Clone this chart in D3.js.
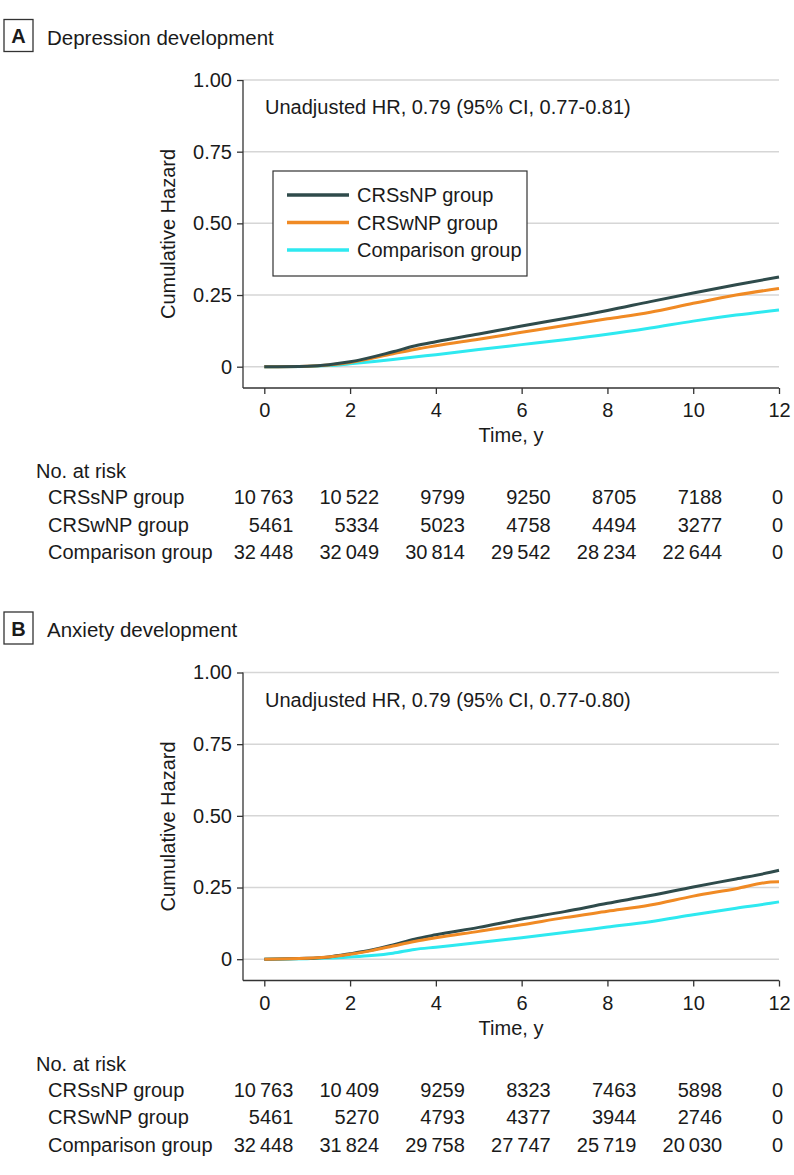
<!DOCTYPE html>
<html>
<head>
<meta charset="utf-8">
<script src="https://cdn.jsdelivr.net/npm/d3@7"></script>
<style>
  body { margin: 0; background: #fff; }
  svg text { font-family: "Liberation Sans", Arial, sans-serif; fill: #1a1a1a; }
</style>
</head>
<body>
<svg id="chart" width="794" height="1175"></svg>
<script>
// ---- data ----
var groups = ["CRSsNP group", "CRSwNP group", "Comparison group"];
var colors = ["#2f4b4b", "#f08a24", "#2ee9f0"];

var xTicks = [0, 2, 4, 6, 8, 10, 12];
var yTicks = [0, 0.25, 0.5, 0.75, 1];
var yTickLabels = ["0", "0.25", "0.50", "0.75", "1.00"];
var riskTimes = [0, 2, 4, 6, 8, 10, 12];

// panel A: depression
var depTimes   = [0, 1, 1.5, 2, 3, 3.5, 4, 5, 6, 7, 8, 9, 10, 11, 12];
var depCRSsNP  = [0, 0.002, 0.007, 0.017, 0.052, 0.072, 0.087, 0.114, 0.142, 0.168, 0.196, 0.227, 0.257, 0.286, 0.313];
var depCRSwNP  = [0, 0.002, 0.006, 0.015, 0.045, 0.060, 0.073, 0.096, 0.120, 0.144, 0.167, 0.190, 0.221, 0.250, 0.273];
var depComp    = [0, 0.001, 0.004, 0.010, 0.025, 0.034, 0.042, 0.060, 0.077, 0.094, 0.113, 0.135, 0.159, 0.180, 0.198];
var depRiskCRSsNP = [10763, 10522, 9799, 9250, 8705, 7188, 0];
var depRiskCRSwNP = [5461, 5334, 5023, 4758, 4494, 3277, 0];
var depRiskComp   = [32448, 32049, 30814, 29542, 28234, 22644, 0];

// panel B: anxiety
var anxTimes   = [0, 1, 1.5, 2, 2.5, 3, 3.5, 4, 5, 6, 7, 8, 9, 10, 11, 11.8, 12];
var anxCRSsNP  = [0, 0.003, 0.008, 0.019, 0.032, 0.050, 0.070, 0.085, 0.111, 0.140, 0.166, 0.195, 0.222, 0.252, 0.280, 0.303, 0.310];
var anxCRSwNP  = [0, 0.003, 0.008, 0.017, 0.030, 0.046, 0.062, 0.075, 0.097, 0.120, 0.145, 0.167, 0.189, 0.220, 0.246, 0.269, 0.270];
var anxComp    = [0, 0.002, 0.004, 0.008, 0.013, 0.021, 0.034, 0.042, 0.058, 0.075, 0.093, 0.112, 0.131, 0.155, 0.178, 0.195, 0.200];
var anxRiskCRSsNP = [10763, 10409, 9259, 8323, 7463, 5898, 0];
var anxRiskCRSwNP = [5461, 5270, 4793, 4377, 3944, 2746, 0];
var anxRiskComp   = [32448, 31824, 29758, 27747, 25719, 20030, 0];

var svg = d3.select("#chart");
svg.append("rect").attr("width", 794).attr("height", 1175).attr("fill", "#fff");

var x = d3.scaleLinear().domain([0, 12]).range([264.3, 779]);
var y = d3.scaleLinear().domain([0, 1]).range([366.7, 80]);

// thin space as thousands separator for 5-digit numbers
function fmtRisk(n) {
  var s = String(n);
  if (s.length > 4) s = s.slice(0, s.length - 3) + "\u2009" + s.slice(s.length - 3);
  return s;
}

function drawPanel(offset, letter, title, hr, times, series, order, risk, showLegend) {
  var g = svg.append("g").attr("transform", "translate(0," + offset + ")");

  // panel letter box + title
  g.append("rect").attr("x", 4).attr("y", 19.5).attr("width", 29).attr("height", 32)
    .attr("fill", "none").attr("stroke", "#333").attr("stroke-width", 1.3);
  g.append("text").attr("x", 18.5).attr("y", 43).attr("text-anchor", "middle")
    .attr("font-size", 20).attr("font-weight", "bold").text(letter);
  g.append("text").attr("x", 47).attr("y", 44.5).attr("font-size", 20.5).text(title);

  // gridlines
  g.append("g").selectAll("line").data(yTicks).enter().append("line")
    .attr("x1", 243).attr("x2", 779)
    .attr("y1", function(d) { return y(d); }).attr("y2", function(d) { return y(d); })
    .attr("stroke", "#d6d6d6").attr("stroke-width", 1.5);

  // y axis
  var yAxis = d3.axisLeft(y).tickValues(yTicks).tickSize(6).tickSizeOuter(0)
    .tickFormat(function(d, i) { return yTickLabels[i]; });
  var ya = g.append("g").attr("transform", "translate(243,0)").call(yAxis);
  ya.select(".domain").attr("d", "M0,80V388").attr("stroke", "#333").attr("stroke-width", 1.3);
  ya.selectAll(".tick line").attr("stroke", "#333").attr("stroke-width", 1.3);
  ya.selectAll(".tick text").attr("x", -11).attr("font-size", 20)
    .attr("font-family", "Liberation Sans, Arial, sans-serif").attr("fill", "#1a1a1a");

  // x axis
  var xAxis = d3.axisBottom(x).tickValues(xTicks).tickSize(6).tickSizeOuter(0);
  var xa = g.append("g").attr("transform", "translate(0,388)").call(xAxis);
  xa.select(".domain").attr("d", "M243,0H779").attr("stroke", "#333").attr("stroke-width", 1.3);
  xa.selectAll(".tick line").attr("stroke", "#333").attr("stroke-width", 1.3);
  xa.selectAll(".tick text").attr("y", 15).attr("font-size", 20)
    .attr("font-family", "Liberation Sans, Arial, sans-serif").attr("fill", "#1a1a1a");

  g.append("text").attr("x", 511).attr("y", 442).attr("text-anchor", "middle")
    .attr("font-size", 20).text("Time, y");
  g.append("text").attr("transform", "translate(175,234) rotate(-90)")
    .attr("text-anchor", "middle").attr("font-size", 20).text("Cumulative Hazard");

  g.append("text").attr("x", 265).attr("y", 114).attr("font-size", 20).text(hr);

  // curves
  var line = d3.line()
    .x(function(d) { return x(d[0]); })
    .y(function(d) { return y(d[1]); })
    .curve(d3.curveMonotoneX);
  order.forEach(function(k) {
    var pts = times.map(function(t, i) { return [t, series[k][i]]; });
    g.append("path").attr("d", line(pts)).attr("fill", "none")
      .attr("stroke", colors[k]).attr("stroke-width", 3)
      .attr("stroke-linejoin", "round").attr("stroke-linecap", "butt");
  });

  // legend
  if (showLegend) {
    var lg = g.append("g");
    lg.append("rect").attr("x", 273).attr("y", 171).attr("width", 254).attr("height", 105)
      .attr("fill", "#fff").attr("stroke", "#333").attr("stroke-width", 1.2);
    groups.forEach(function(name, i) {
      var ly = 195 + i * 27.5;
      lg.append("line").attr("x1", 287).attr("x2", 349).attr("y1", ly).attr("y2", ly)
        .attr("stroke", colors[i]).attr("stroke-width", 3.5);
      lg.append("text").attr("x", 357).attr("y", ly + 7).attr("font-size", 20).text(name);
    });
  }

  // number at risk table
  g.append("text").attr("x", 36).attr("y", 478).attr("font-size", 20).text("No. at risk");
  groups.forEach(function(name, i) {
    var ry = 504 + i * 27.5;
    g.append("text").attr("x", 48).attr("y", ry).attr("font-size", 20).text(name);
    g.append("g").selectAll("text").data(risk[i]).enter().append("text")
      .attr("x", function(d, j) {
        var t = riskTimes[j];
        return t === 12 ? x(t) + 4 : x(t) + 29;
      })
      .attr("y", ry).attr("text-anchor", "end").attr("font-size", 20)
      .text(function(d) { return fmtRisk(d); });
  });
}

drawPanel(0, "A", "Depression development", "Unadjusted HR, 0.79 (95% CI, 0.77-0.81)",
  depTimes, [depCRSsNP, depCRSwNP, depComp], [2, 1, 0],
  [depRiskCRSsNP, depRiskCRSwNP, depRiskComp], true);

drawPanel(592.5, "B", "Anxiety development", "Unadjusted HR, 0.79 (95% CI, 0.77-0.80)",
  anxTimes, [anxCRSsNP, anxCRSwNP, anxComp], [2, 0, 1],
  [anxRiskCRSsNP, anxRiskCRSwNP, anxRiskComp], false);
</script>
</body>
</html>
